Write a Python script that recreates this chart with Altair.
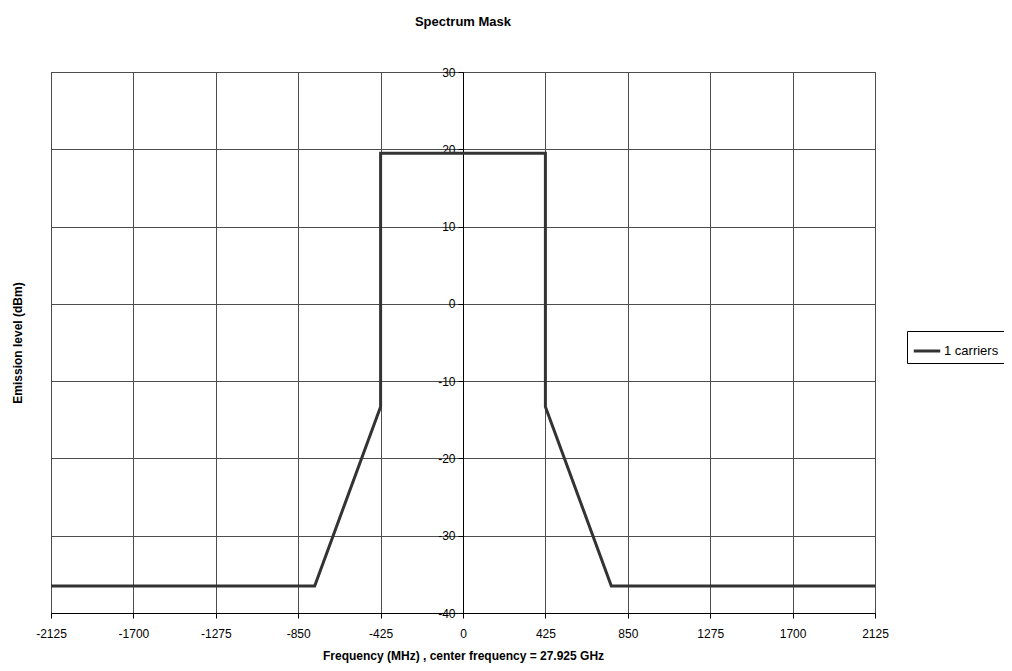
import altair as alt
import pandas as pd

freq = [-2125, -765, -425, -425, 425, 425, 765, 2125]
level = [-36.5, -36.5, -13.3, 19.5, 19.5, -13.3, -36.5, -36.5]
series = "1 carriers"
x_ticks = [-2125, -1700, -1275, -850, -425, 0, 425, 850, 1275, 1700, 2125]
y_ticks = [-40, -30, -20, -10, 0, 10, 20, 30]

df = pd.DataFrame({
    "freq": freq,
    "level": level,
    "order": list(range(len(freq))),
    "series": [series] * len(freq),
})

FONT = "Liberation Sans"
W, H = 824, 541

chart = alt.Chart(df).mark_line(strokeWidth=3, strokeJoin="miter").encode(
    x=alt.X("freq:Q",
            scale=alt.Scale(domain=[-2125, 2125], nice=False, zero=False),
            axis=alt.Axis(values=x_ticks, labelExpr="toString(datum.value)",
                          title="Frequency (MHz) , center frequency = 27.925 GHz",
                          grid=True, gridColor="#4d4d4d", gridWidth=1,
                          domainColor="#000000", tickColor="#000000", tickSize=5,
                          labelPadding=10, titlePadding=11, labelFlush=False)),
    y=alt.Y("level:Q",
            scale=alt.Scale(domain=[-40, 30], nice=False, zero=False),
            axis=alt.Axis(values=y_ticks, labelExpr="toString(datum.value)",
                          title="Emission level (dBm)",
                          offset=-W / 2, grid=True, gridColor="#4d4d4d", gridWidth=1,
                          domainColor="#000000", tickColor="#000000", tickSize=5,
                          labelPadding=3,
                          titleX=-(W / 2) - 34, titleY=H / 2, titleAngle=270,
                          titleAlign="center", titleBaseline="middle")),
    order="order:O",
    color=alt.Color("series:N", scale=alt.Scale(range=["#333333"]),
                    legend=alt.Legend(title=None, orient="none", legendX=856, legendY=259,
                                      symbolType="stroke", symbolSize=700,
                                      symbolStrokeWidth=3, padding=5,
                                      strokeColor="#000000", fillColor="#ffffff",
                                      labelFontSize=13, labelFont=FONT,
                                      labelColor="#000000", labelOffset=2)),
).properties(
    width=W,
    height=H,
    title=alt.TitleParams("Spectrum Mask", font=FONT, fontSize=13, fontWeight="bold",
                          anchor="middle", offset=37, color="#000000"),
    autosize=alt.AutoSizeParams(type="none"),
    padding={"left": 43, "top": 64, "right": 129, "bottom": 50},
).configure_axis(
    labelFont=FONT, titleFont=FONT, labelFontSize=12, titleFontSize=12,
    labelColor="#000000", titleColor="#000000", titleFontWeight="bold",
).configure_view(
    stroke="#4d4d4d", strokeWidth=1,
)

chart.save("out.html", embed_options={"renderer": "svg", "actions": False})
